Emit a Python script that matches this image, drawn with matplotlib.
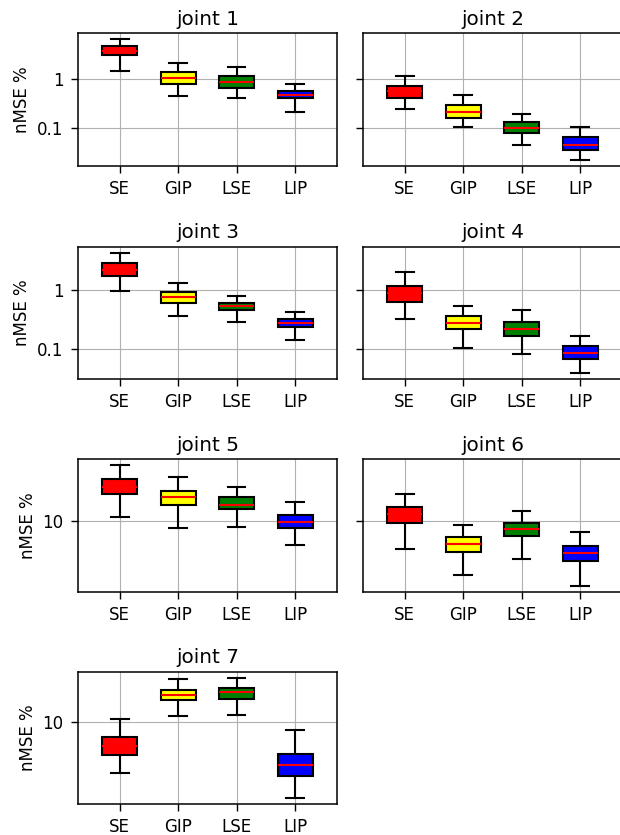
import numpy as np
import matplotlib
matplotlib.use('Agg')
import matplotlib.pyplot as plt
from matplotlib.ticker import FixedLocator, FuncFormatter, NullLocator

plt.rcParams['font.size'] = 12
plt.rcParams['axes.linewidth'] = 1.1
plt.rcParams['xtick.major.size'] = 5
plt.rcParams['ytick.major.size'] = 5
plt.rcParams['xtick.major.width'] = 1.0
plt.rcParams['ytick.major.width'] = 1.0
plt.rcParams['xtick.major.pad'] = 5
plt.rcParams['ytick.major.pad'] = 5.5

methods = ['SE', 'GIP', 'LSE', 'LIP']
colors = ['red', 'yellow', 'green', 'blue']

# per joint, per method: [whislo, q1, med, q3, whishi]  (nMSE %)
joint1 = [[1.45, 3.07, 3.70, 4.52, 6.27],
          [0.45, 0.79, 1.02, 1.34, 2.08],
          [0.40, 0.66, 0.86, 1.11, 1.70],
          [0.214, 0.40, 0.47, 0.56, 0.76]]
joint2 = [[0.239, 0.41, 0.55, 0.70, 1.11],
          [0.106, 0.162, 0.214, 0.297, 0.47],
          [0.046, 0.078, 0.1016, 0.132, 0.189],
          [0.0228, 0.0358, 0.046, 0.065, 0.103]]
joint3 = [[0.96, 1.69, 2.16, 2.81, 4.27],
          [0.36, 0.585, 0.76, 0.91, 1.32],
          [0.285, 0.456, 0.53, 0.60, 0.78],
          [0.142, 0.237, 0.274, 0.316, 0.416]]
joint4 = [[0.32, 0.616, 0.866, 1.17, 2.0],
          [0.104, 0.214, 0.277, 0.36, 0.53],
          [0.082, 0.162, 0.211, 0.281, 0.46],
          [0.0385, 0.0658, 0.0843, 0.110, 0.164]]
joint5 = [[10.96, 18.9, 22.0, 26.5, 36.3],
          [8.64, 14.45, 17.3, 20.3, 27.5],
          [8.78, 13.3, 14.7, 17.3, 22.0],
          [5.84, 8.58, 9.85, 11.5, 15.5]]
joint6 = [[5.33, 9.55, 11.9, 13.8, 18.6],
          [2.91, 4.97, 5.89, 6.97, 9.26],
          [4.23, 7.19, 8.45, 9.55, 12.7],
          [2.27, 4.04, 4.86, 5.67, 7.76]]
joint7 = [[3.44, 5.05, 6.01, 7.26, 10.65],
          [11.4, 15.85, 17.7, 19.4, 24.8],
          [11.6, 16.3, 18.7, 20.5, 25.3],
          [2.05, 3.27, 4.12, 5.19, 8.46]]
joints = [joint1, joint2, joint3, joint4, joint5, joint6, joint7]

fig = plt.figure(figsize=(6.2, 8.35), dpi=100)

# axes boxes in figure fractions
col_x = [0.1258, 0.5855]
col_w = 0.4177
row_y = [0.8016, 0.5461, 0.2914, 0.0371]
row_h = 0.1586

axes = []
for i, joint in enumerate(joints):
    r, c = divmod(i, 2)
    ax = fig.add_axes([col_x[c], row_y[r], col_w, row_h])
    if c == 1:
        ax.sharey(axes[i - 1])
    axes.append(ax)

    stats = []
    for name, (lo, q1, med, q3, hi) in zip(methods, joint):
        stats.append(dict(label=name, whislo=lo, q1=q1, med=med, q3=q3, whishi=hi, fliers=[]))
    bp = ax.bxp(stats, widths=0.6, patch_artist=True, showfliers=False,
                boxprops=dict(edgecolor='black', linewidth=1.5),
                whiskerprops=dict(color='black', linewidth=1.5),
                capprops=dict(color='black', linewidth=1.5),
                medianprops=dict(color='red', linewidth=1.5))
    for patch, col in zip(bp['boxes'], colors):
        patch.set_facecolor(col)

    ax.set_yscale('log')
    ax.yaxis.set_major_locator(FixedLocator([0.01, 0.1, 1, 10, 100]))
    ax.yaxis.set_minor_locator(NullLocator())
    ax.yaxis.set_major_formatter(FuncFormatter(lambda v, p: '%g' % v))
    ax.set_xlim(0.285, 4.715)
    ax.grid(True)
    ax.set_title('joint %d' % (i + 1))
    if c == 0:
        ax.set_ylabel('nMSE %')
    else:
        ax.tick_params(labelleft=False)

fig.savefig('out.png', dpi=100)
plt.close(fig)
